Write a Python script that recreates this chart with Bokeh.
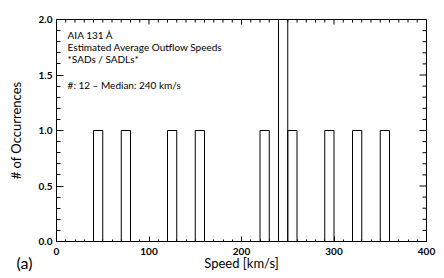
import math
from bokeh.plotting import figure
from bokeh.models import FixedTicker, PrintfTickFormatter, Label, ColumnDataSource, Range1d
from bokeh.core.properties import value
from bokeh.embed import file_html
from bokeh.resources import INLINE

# data
bin_left = [40, 70, 120, 150, 220, 240, 250, 290, 320, 350]
counts = [1, 1, 1, 1, 1, 2, 1, 1, 1, 1]
bin_width = 10
x_ticks = [0, 100, 200, 300, 400]
y_ticks = [0.0, 0.5, 1.0, 1.5, 2.0]
x_minor = [v for v in range(0, 401, 10)]
y_minor = [round(i * 0.1, 2) for i in range(0, 21)]
info_lines = ["AIA 131 Å", "Estimated Average Outflow Speeds", "*SADs / SADLs*", "", "#: 12 \u2013 Median: 240 km/s"]
panel_tag = "(a)"

FONT = "Lato"
XMIN, XMAX, YMIN, YMAX = 0, 400, 0, 2

p = figure(width=444, height=278, output_backend="svg", toolbar_location=None,
           x_range=Range1d(XMIN, XMAX), y_range=Range1d(YMIN, YMAX),
           min_border_left=56, min_border_right=18, min_border_top=19, min_border_bottom=37)
p.grid.visible = False
p.outline_line_color = "black"
p.outline_line_width = 1
p.background_fill_color = "white"
p.border_fill_color = "white"

src = ColumnDataSource(dict(left=bin_left,
                            right=[b + bin_width for b in bin_left],
                            top=counts,
                            bottom=[0] * len(counts)))
p.quad(left="left", right="right", top="top", bottom="bottom", source=src,
       fill_color=None, line_color="black", line_width=1)

def style_axis(ax, ticks, minor, major_in, minor_in):
    ax.ticker = FixedTicker(ticks=ticks, minor_ticks=minor)
    ax.axis_line_color = "black"
    ax.axis_line_width = 1
    ax.major_tick_line_color = "black"
    ax.minor_tick_line_color = "black"
    ax.major_tick_in = major_in
    ax.major_tick_out = 0
    ax.minor_tick_in = minor_in
    ax.minor_tick_out = 0
    ax.major_label_text_font = FONT
    ax.major_label_text_font_size = "10px"
    ax.major_label_text_color = "black"
    ax.major_label_text_font_style = "bold"
    ax.axis_label_text_font = FONT
    ax.axis_label_text_font_size = "13px"
    ax.axis_label_text_font_style = "normal"
    ax.axis_label_text_color = "black"

xb = p.xaxis[0]
style_axis(xb, x_ticks, x_minor, 5, 2)
xb.major_label_standoff = 6
xb.axis_label = "Speed [km/s]"
xb.axis_label_standoff = -3

yl = p.yaxis[0]
style_axis(yl, y_ticks, y_minor, 7, 4)
yl.formatter = PrintfTickFormatter(format="%.1f")
yl.major_label_standoff = 4
yl.axis_label = "# of Occurrences"
yl.axis_label_standoff = 12

# mirrored ticks on top and right edges (inward)
x_major_set = set(x_ticks)
x_minor_only = [v for v in x_minor if v not in x_major_set]
y_major_set = set(y_ticks)
y_minor_only = [v for v in y_minor if v not in y_major_set]
p.ray(x=x_minor_only, y=[YMAX] * len(x_minor_only), length=3, length_units="screen",
      angle=-math.pi / 2, line_color="black", line_width=1)
p.ray(x=x_ticks, y=[YMAX] * len(x_ticks), length=5, length_units="screen",
      angle=-math.pi / 2, line_color="black", line_width=1)
p.ray(x=[XMAX] * len(y_minor_only), y=y_minor_only, length=4, length_units="screen",
      angle=math.pi, line_color="black", line_width=1)
p.ray(x=[XMAX] * len(y_ticks), y=y_ticks, length=7, length_units="screen",
      angle=math.pi, line_color="black", line_width=1)

# info text
y0 = 1.86
dy = 0.108
for i, t in enumerate(info_lines):
    if not t:
        continue
    yy = y0 - i * dy - (0.02 if i == 4 else 0)
    p.add_layout(Label(x=12, y=yy, text=t, text_font=FONT, text_font_size="10px",
                       text_baseline="middle", text_align="left", text_color="black"))

# panel tag below-left of the frame (glyph on overlay level, not clipped to frame)
tag = p.text(x=[XMIN], y=[YMIN], text=[panel_tag], x_offset=-32, y_offset=21,
             text_font=value(FONT), text_font_size="16px",
             text_baseline="middle", text_align="center", text_color="black",
             level="overlay")

open("out.html", "w").write(file_html(p, INLINE))
